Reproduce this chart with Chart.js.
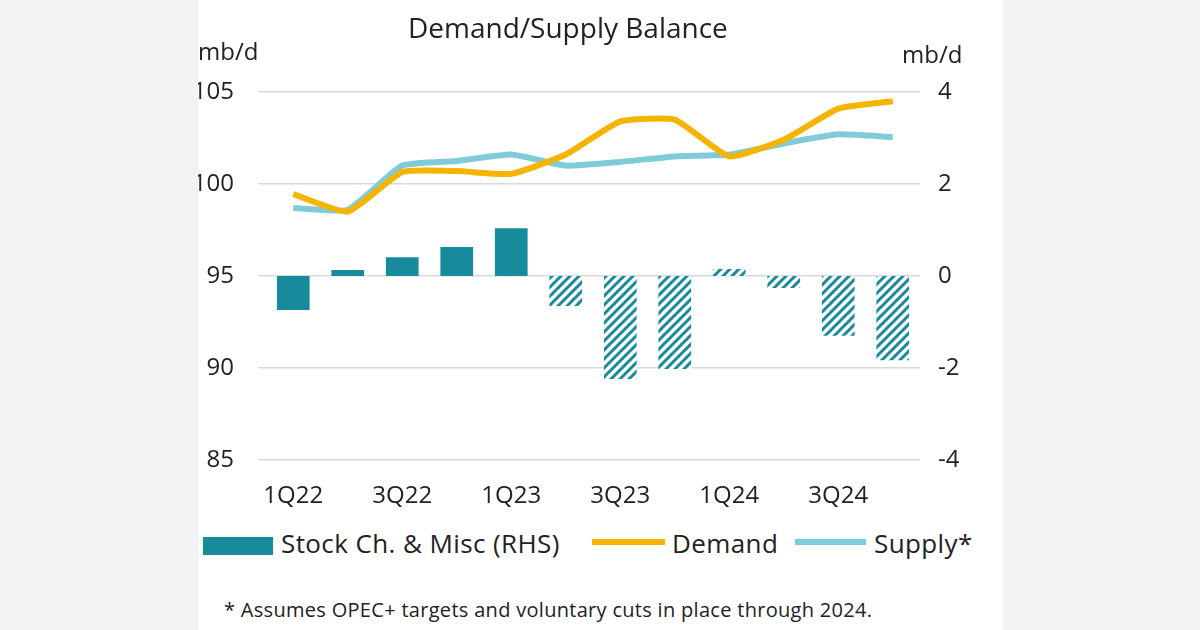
<!DOCTYPE html>
<html><head><meta charset="utf-8">
<script src="https://cdn.jsdelivr.net/npm/chart.js@4"></script>
<style>
body{margin:0;width:1200px;height:630px;background:#f1f2f3;font-family:"Open Sans",sans-serif;overflow:hidden}
#panel{position:absolute;left:198px;top:0;width:805px;height:630px;background:#fff;overflow:hidden}
#c{position:absolute;left:-198px;top:0}
.t{position:absolute;color:#222;white-space:nowrap}
.leg{position:absolute;top:525px;font-size:26px;color:#222;letter-spacing:0.4px}
</style></head><body>
<div id="panel">
<canvas id="c" width="1200" height="510"></canvas>
<div class="t" style="left:210px;top:8px;font-size:28px">Demand/Supply Balance</div>
<div class="t" style="left:0px;top:34px;font-size:24px">mb/d</div>
<div class="t" style="left:704px;top:37px;font-size:24px">mb/d</div>
<div class="leg" style="left:5px"><span style="display:inline-block;width:70px;height:18px;background:#178b9c;vertical-align:-2px;margin-right:8px"></span>Stock Ch. &amp; Misc (RHS)</div>
<div class="leg" style="left:394px"><span style="display:inline-block;width:73px;height:6px;background:#f5b400;vertical-align:8px;margin-right:7px"></span>Demand</div>
<div class="leg" style="left:597px"><span style="display:inline-block;width:71px;height:6px;background:#80cbda;vertical-align:8px;margin-right:8px"></span>Supply*</div>
<div class="t" style="left:26px;top:596px;font-size:20px;letter-spacing:0.3px">* Assumes OPEC+ targets and voluntary cuts in place through 2024.</div>
</div>
<script>
const quarters = ['1Q22','2Q22','3Q22','4Q22','1Q23','2Q23','3Q23','4Q23','1Q24','2Q24','3Q24','4Q24'];
const demand = [99.45, 98.5, 100.65, 100.7, 100.55, 101.6, 103.4, 103.5, 101.5, 102.4, 104.1, 104.5];
const supply = [98.7, 98.6, 101.0, 101.25, 101.6, 101.0, 101.2, 101.5, 101.6, 102.2, 102.7, 102.55];
const stockChange = [-0.74, 0.13, 0.41, 0.63, 1.04, -0.65, -2.24, -2.02, 0.15, -0.26, -1.3, -1.83];
const firstForecast = 5; // hatched from 2Q23

const teal = '#178b9c';
const pc = document.createElement('canvas');
pc.width = 9; pc.height = 9;
const p = pc.getContext('2d');
p.fillStyle = '#fff'; p.fillRect(0, 0, 9, 9);
p.strokeStyle = teal; p.lineWidth = 3;
p.beginPath(); p.moveTo(-2, 11); p.lineTo(11, -2); p.moveTo(-2, 2); p.lineTo(2, -2); p.moveTo(7, 11); p.lineTo(11, 7); p.stroke();
const hatch = document.getElementById('c').getContext('2d').createPattern(pc, 'repeat');

new Chart(document.getElementById('c'), {
  data: {
    labels: quarters,
    datasets: [
      { type: 'line', data: supply, yAxisID: 'y', borderColor: '#80cbda', borderWidth: 6, pointRadius: 0, tension: 0.15, order: 1 },
      { type: 'line', data: demand, yAxisID: 'y', borderColor: '#f5b400', borderWidth: 6, pointRadius: 0, tension: 0.15, order: 0 },
      { type: 'bar', data: stockChange, yAxisID: 'y2', categoryPercentage: 1, barPercentage: 0.6, order: 2,
        backgroundColor: stockChange.map((v, i) => i >= firstForecast ? hatch : teal) }
    ]
  },
  options: {
    responsive: false, animation: false,
    layout: { padding: { left: 150, right: 200, top: 92, bottom: 0 } },
    plugins: { legend: { display: false }, tooltip: { enabled: false } },
    scales: {
      x: { grid: { display: false }, border: { display: false },
        ticks: { color: '#222', font: { size: 24, family: 'Open Sans' }, maxRotation: 0, autoSkip: false,
          callback: (v, i) => i % 2 === 0 ? quarters[i] : '' , padding: 14 },
        afterFit: a => { a.height = 50; } },
      y: { position: 'left', min: 85, max: 105, grid: { color: '#d9d9d9', lineWidth: 1.5 }, border: { display: false },
        ticks: { stepSize: 5, color: '#222', font: { size: 24, family: 'Open Sans' }, padding: 24 },
        afterFit: a => { a.width = 116; } },
      y2: { position: 'right', min: -4, max: 4, grid: { display: false }, border: { display: false },
        ticks: { stepSize: 2, color: '#222', font: { size: 24, family: 'Open Sans' }, padding: 10 },
        afterFit: a => { a.width = 80; } }
    }
  }
});
</script>
</body></html>
